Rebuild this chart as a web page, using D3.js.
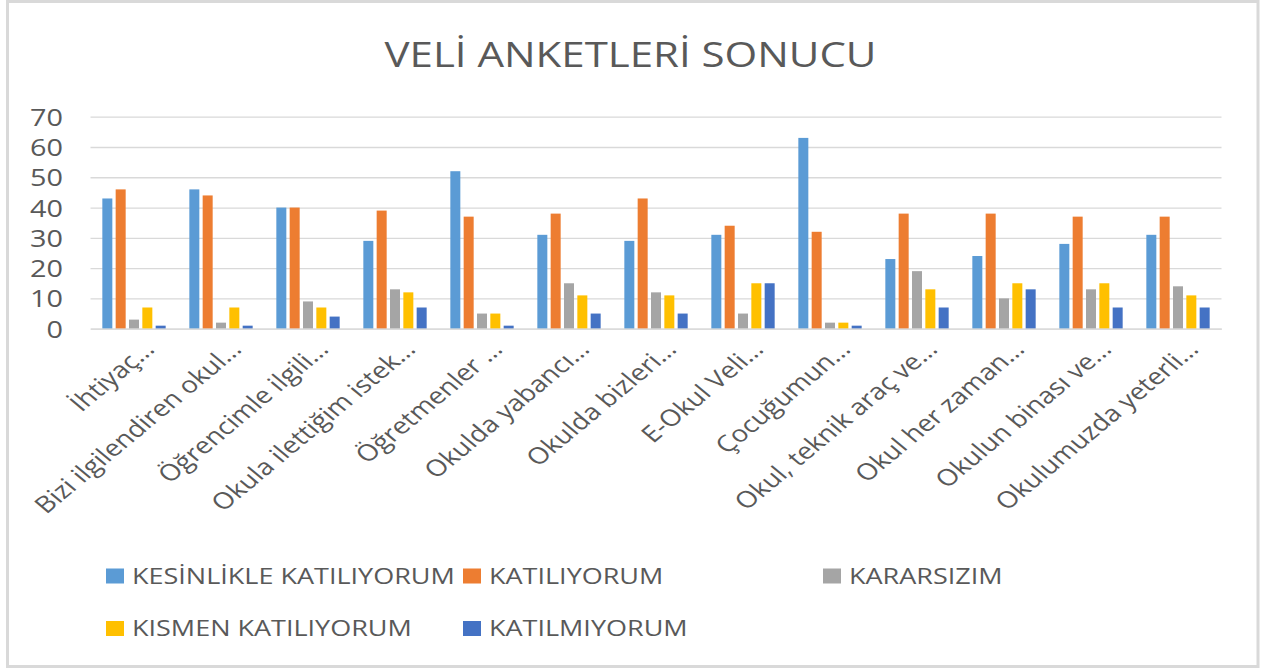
<!DOCTYPE html>
<html>
<head>
<meta charset="utf-8">
<script src="https://cdn.jsdelivr.net/npm/d3@7"></script>
<style>
  html, body { margin: 0; padding: 0; background: #fff; }
  svg { display: block; }
  text { font-family: "Open Sans", sans-serif; fill: #595959; }
</style>
</head>
<body>
<svg id="chart" width="1265" height="668"></svg>
<script>
const categories = [
  "İhtiyaç…", "Bizi ilgilendiren okul…", "Öğrencimle ilgili…", "Okula ilettiğim istek…",
  "Öğretmenler …", "Okulda yabancı…", "Okulda bizleri…", "E-Okul Veli…",
  "Çocuğumun…", "Okul, teknik araç ve…", "Okul her zaman…", "Okulun binası ve…",
  "Okulumuzda yeterli…"
];
const seriesNames = ["KESİNLİKLE KATILIYORUM", "KATILIYORUM", "KARARSIZIM", "KISMEN KATILIYORUM", "KATILMIYORUM"];
const seriesColors = ["#5B9BD5", "#ED7D31", "#A5A5A5", "#FFC000", "#4472C4"];
const kesinlikle  = [43, 46, 40, 29, 52, 31, 29, 31, 63, 23, 24, 28, 31];
const katiliyorum = [46, 44, 40, 39, 37, 38, 43, 34, 32, 38, 38, 37, 37];
const kararsizim  = [3, 2, 9, 13, 5, 15, 12, 5, 2, 19, 10, 13, 14];
const kismen      = [7, 7, 7, 12, 5, 11, 11, 15, 2, 13, 15, 15, 11];
const katilmiyorum= [1, 1, 4, 7, 1, 5, 5, 15, 1, 7, 13, 7, 7];
const yTicks = [0, 10, 20, 30, 40, 50, 60, 70];
const title = "VELİ ANKETLERİ SONUCU";

const seriesValues = [kesinlikle, katiliyorum, kararsizim, kismen, katilmiyorum];
const SX = 1.2; // horizontal stretch of the reference picture's text

const svg = d3.select("#chart");
const pLeft = 90.5, pRight = 1221.5, pTop = 116.7, pBottom = 328.7;

// frame
svg.append("rect").attr("x", 7.5).attr("y", 1.5).attr("width", 1250.5).attr("height", 665)
  .attr("fill", "#fff").attr("stroke", "#d9d9d9").attr("stroke-width", 3);

const x0 = d3.scaleBand().domain(d3.range(categories.length)).range([pLeft, pRight])
  .paddingInner(0.272).paddingOuter(0.136);
const x1 = d3.scaleBand().domain(d3.range(seriesNames.length)).range([0, x0.bandwidth()])
  .paddingInner(0.25).paddingOuter(0);
const y = d3.scaleLinear().domain([0, 70]).range([pBottom, pTop]);

// gridlines + y labels
const yAxis = svg.append("g").attr("transform", `translate(${pLeft},0)`)
  .call(d3.axisLeft(y).tickValues(yTicks).tickSize(-(pRight - pLeft)).tickPadding(0));
yAxis.select(".domain").remove();
yAxis.selectAll("line").attr("stroke", "#d9d9d9").attr("stroke-width", 1.3);
yAxis.selectAll("text")
  .attr("x", 0).attr("dy", null)
  .attr("transform", `translate(-27.5,8.5) scale(${SX},1)`)
  .attr("text-anchor", "end").style("font-size", "24px").style("fill", "#595959");

// bars
const groups = svg.append("g").selectAll("g").data(categories).join("g")
  .attr("transform", (d, i) => `translate(${x0(i)},0)`);
groups.selectAll("rect").data((d, i) => seriesValues.map((s, k) => ({k, v: s[i]})))
  .join("rect")
  .attr("x", d => x1(d.k)).attr("width", x1.bandwidth())
  .attr("y", d => y(d.v)).attr("height", d => y(0) - y(d.v))
  .attr("fill", d => seriesColors[d.k]);

// x axis
const xAxis = svg.append("g").attr("transform", `translate(0,${pBottom})`)
  .call(d3.axisBottom(x0).tickSize(0).tickFormat(i => categories[i]));
xAxis.select(".domain").attr("stroke", "#d9d9d9").attr("stroke-width", 1.3);
xAxis.selectAll("text")
  .attr("y", 0).attr("dy", null)
  .attr("text-anchor", "end")
  .attr("transform", `translate(22,22) scale(${SX},1) rotate(-45)`)
  .style("font-size", "23px").style("fill", "#595959");

// title
svg.append("text").attr("transform", `translate(630.5,66.7) scale(${SX},1)`)
  .attr("text-anchor", "middle").style("font-size", "35px").text(title);

// legend
const legCols = [106, 463, 823];
const legRows = [583.5, 636];
const leg = svg.append("g").selectAll("g").data(seriesNames).join("g")
  .attr("transform", (d, i) => `translate(${legCols[i % 3]},${legRows[Math.floor(i / 3)]})`);
leg.append("rect").attr("x", 0).attr("y", -15).attr("width", 18).attr("height", 15)
  .attr("fill", (d, i) => seriesColors[i]);
leg.append("text").attr("transform", `translate(26,0) scale(${SX},1)`)
  .style("font-size", "22.5px").text(d => d);
</script>
</body>
</html>
